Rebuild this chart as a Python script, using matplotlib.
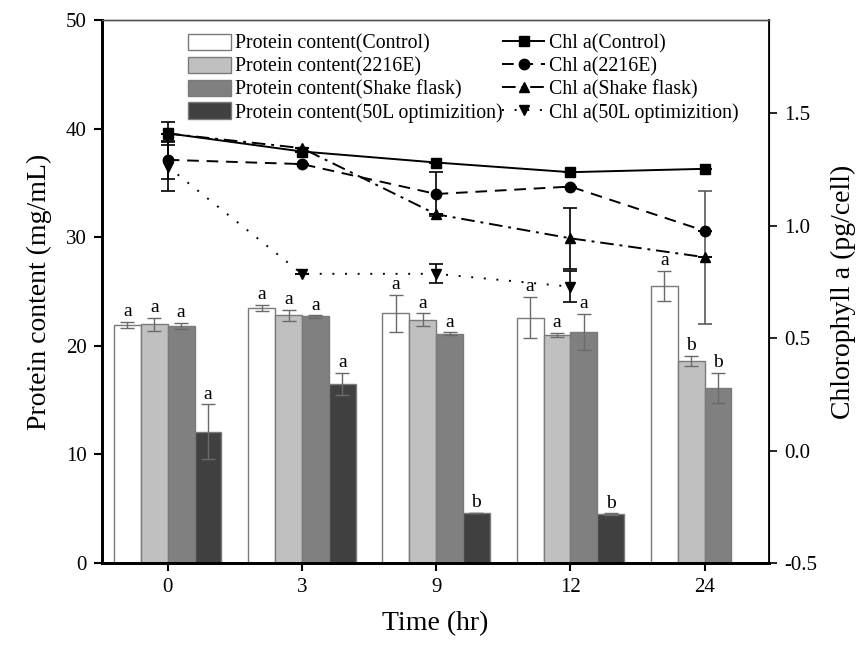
import matplotlib
matplotlib.use("Agg")
import matplotlib.pyplot as plt
import numpy as np
from matplotlib.lines import Line2D
from matplotlib.patches import Patch

plt.rcParams['font.family'] = ['Liberation Serif', 'DejaVu Serif']

times = ["0", "3", "9", "12", "24"]

bar_labels = ["Protein content(Control)", "Protein content(2216E)",
              "Protein content(Shake flask)", "Protein content(50L optimizition)"]
prot_control = [21.9, 23.5, 23.0, 22.6, 25.5]
prot_2216e = [22.0, 22.8, 22.4, 21.0, 18.6]
prot_shake = [21.8, 22.7, 21.1, 21.3, 16.1]
prot_50l = [12.1, 16.5, 4.6, 4.5, np.nan]
prot_control_err = [0.3, 0.3, 1.7, 1.9, 1.4]
prot_2216e_err = [0.6, 0.5, 0.6, 0.2, 0.5]
prot_shake_err = [0.3, 0.1, 0.15, 1.65, 1.4]
prot_50l_err = [2.5, 1.0, 0.0, 0.08, np.nan]
letters_control = ["a", "a", "a", "a", "a"]
letters_2216e = ["a", "a", "a", "a", "b"]
letters_shake = ["a", "a", "a", "a", "b"]
letters_50l = ["a", "a", "b", "b", ""]

line_labels = ["Chl a(Control)", "Chl a(2216E)", "Chl a(Shake flask)", "Chl a(50L optimizition)"]
chl_control = [1.411, 1.330, 1.281, 1.238, 1.253]
chl_2216e = [1.293, 1.274, 1.141, 1.174, 0.977]
chl_shake = [1.41, 1.345, 1.051, 0.944, 0.860]
chl_50l = [1.263, 0.786, 0.786, 0.729, np.nan]
chl_control_err = [0.052, 0.0, 0.0, 0.0, 0.0]
chl_2216e_err = [0.085, 0.0, 0.097, 0.0, 0.0]
chl_shake_err = [0.0, 0.0, 0.0, 0.135, 0.295]
chl_50l_err = [0.11, 0.0, 0.042, 0.068, np.nan]

fig = plt.figure(figsize=(8.62, 6.46), dpi=100)
ax = fig.add_axes([0.1183, 0.1285, 0.7738, 0.8406])
ax2 = ax.twinx()

x = np.arange(len(times))
w = 0.2
bar_sets = [
    (prot_control, prot_control_err, letters_control, "#ffffff"),
    (prot_2216e, prot_2216e_err, letters_2216e, "#c0c0c0"),
    (prot_shake, prot_shake_err, letters_shake, "#808080"),
    (prot_50l, prot_50l_err, letters_50l, "#404040"),
]
offsets = [-1.5 * w, -0.5 * w, 0.5 * w, 1.5 * w]
handles_bar = []
for (vals, errs, lets, col), off, lab in zip(bar_sets, offsets, bar_labels):
    vals = np.array(vals, dtype=float)
    errs = np.array(errs, dtype=float)
    ax.bar(x + off, vals, width=w, color=col, edgecolor="#7a7a7a", linewidth=1.0, zorder=2)
    ax.errorbar(x + off, vals, yerr=errs, fmt="none", ecolor="#6a6a6a",
                elinewidth=1.0, capsize=5, capthick=1.0, zorder=3)
    for xi, v, e, l in zip(x + off, vals, errs, lets):
        if np.isnan(v) or not l:
            continue
        ax.text(xi, v + e + 0.15, l, ha="center", va="bottom", fontsize=14, color="black")
    handles_bar.append(Patch(facecolor=col, edgecolor="#7a7a7a", linewidth=1.0, label=lab))

ax.set_xlim(-0.49, 4.48)
ax.set_ylim(0, 50)
ax.set_yticks([0, 10, 20, 30, 40, 50])
ax.set_xticks(x)
ax.set_xticklabels(times)
ax.set_xlabel("Time (hr)", fontsize=20, labelpad=10)
ax.set_ylabel("Protein content (mg/mL)", fontsize=20, labelpad=10)
ax.tick_params(axis="both", labelsize=15, direction="out", length=6, width=1.5, pad=5)

line_sets = [
    (chl_control, chl_control_err, "s", (0, ())),
    (chl_2216e, chl_2216e_err, "o", (0, (6, 4))),
    (chl_shake, chl_shake_err, "^", (0, (7, 3, 1.5, 3))),
    (chl_50l, chl_50l_err, "v", (0, (1, 5.5))),
]
handles_line = []
for idx, ((vals, errs, mk, dash), lab) in enumerate(zip(line_sets, line_labels)):
    vals = np.array(vals, dtype=float)
    errs = np.array(errs, dtype=float)
    if idx == 2:
        e_dark = errs.copy(); e_dark[4] = 0.0
        e_gray = np.zeros_like(errs); e_gray[4] = errs[4]
        ax2.errorbar(x, vals, yerr=e_dark, fmt="none", ecolor="black", elinewidth=1.2,
                     capsize=5, capthick=1.2, zorder=4)
        ax2.errorbar(x[4:], vals[4:], yerr=e_gray[4:], fmt="none", ecolor="#5a5a5a",
                     elinewidth=1.2, capsize=5, capthick=1.2, zorder=4)
    else:
        ax2.errorbar(x, vals, yerr=errs, fmt="none", ecolor="black", elinewidth=1.2,
                     capsize=5, capthick=1.2, zorder=4)
    ax2.plot(x, vals, color="black", linestyle=dash, linewidth=1.4, marker=mk,
             markersize=7.5, zorder=5)
    handles_line.append(Line2D([0], [0], color="black", linestyle=dash, linewidth=1.4,
                               marker=mk, markersize=7.5, label=lab))

ax2.set_ylim(-0.5, 1.915)
ax2.set_yticks([-0.5, 0.0, 0.5, 1.0, 1.5])
ax2.set_yticklabels(["-0.5", "0.0", "0.5", "1.0", "1.5"])
ax2.set_ylabel("Chlorophyll a (pg/cell)", fontsize=20, labelpad=10)
ax2.tick_params(axis="y", labelsize=15, direction="out", length=6, width=1.2, pad=5)

for s in ["left", "bottom"]:
    ax.spines[s].set_linewidth(2.0)
    ax2.spines[s].set_linewidth(2.0)
for a in (ax, ax2):
    a.spines["top"].set_linewidth(1.0)
    a.spines["top"].set_color("#555555")
ax2.spines["right"].set_linewidth(1.3)

leg1 = ax2.legend(handles=handles_bar, loc="upper left", bbox_to_anchor=(0.108, 1.0),
                  frameon=False, fontsize=14.3, handlelength=2.16, handleheight=0.9,
                  labelspacing=0.14, handletextpad=0.23, borderaxespad=0.3)
ax2.add_artist(leg1)
ax2.legend(handles=handles_line, loc="upper left", bbox_to_anchor=(0.579, 1.0),
           frameon=False, fontsize=14.3, handlelength=2.16, handleheight=0.9,
           labelspacing=0.14, handletextpad=0.18, borderaxespad=0.3)

fig.savefig("out.png", dpi=100)
